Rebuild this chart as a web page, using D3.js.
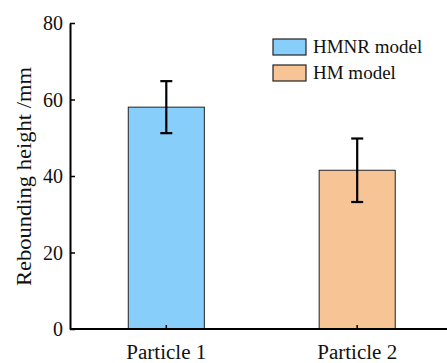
<!DOCTYPE html>
<html>
<head>
<meta charset="utf-8">
<script src="https://cdn.jsdelivr.net/npm/d3@7"></script>
<style>
  body { margin: 0; background: #fff; }
  svg { display: block; }
  text { font-family: "Liberation Serif", "Times New Roman", serif; fill: #111; }
</style>
</head>
<body>
<svg id="chart" width="447" height="363"></svg>
<script>
// Rebounding height per particle, mean with error half-width
const categories = ["Particle 1", "Particle 2"];
const seriesNames = ["HMNR model", "HM model"];
const means = [58, 41.5];
const errors = [6.8, 8.3];
const yTicks = [0, 20, 40, 60, 80];
const colors = ["#87CEFA", "#F7C496"];

const svg = d3.select("#chart");
const x0 = 70, x1 = 447, yTop = 23, yBot = 329;

const y = d3.scaleLinear().domain([0, 80]).range([yBot, yTop]);
const x = d3.scaleBand().domain(categories).range([71, 452.5]).paddingInner(0.6015).paddingOuter(0.3);

// bars
svg.selectAll("rect.bar").data(categories).join("rect")
  .attr("class", "bar")
  .attr("x", d => x(d))
  .attr("y", (d, i) => y(means[i]))
  .attr("width", x.bandwidth())
  .attr("height", (d, i) => y(0) - y(means[i]))
  .attr("fill", (d, i) => colors[i])
  .attr("stroke", "#222")
  .attr("stroke-width", 1);

// error bars
const eb = svg.selectAll("g.err").data(categories).join("g").attr("class", "err")
  .attr("stroke", "#000").attr("stroke-width", 2.2);
eb.append("line")
  .attr("x1", d => x(d) + x.bandwidth() / 2).attr("x2", d => x(d) + x.bandwidth() / 2)
  .attr("y1", (d, i) => y(means[i] + errors[i])).attr("y2", (d, i) => y(means[i] - errors[i]));
[1, -1].forEach(s => {
  eb.append("line")
    .attr("x1", d => x(d) + x.bandwidth() / 2 - 6).attr("x2", d => x(d) + x.bandwidth() / 2 + 6)
    .attr("y1", (d, i) => y(means[i] + s * errors[i])).attr("y2", (d, i) => y(means[i] + s * errors[i]));
});

// y axis (ticks point inward)
const yAxis = svg.append("g").attr("transform", `translate(${x0},0)`)
  .call(d3.axisLeft(y).tickValues(yTicks).tickSize(-5).tickSizeOuter(0).tickPadding(7));
yAxis.select(".domain").attr("stroke", "#000").attr("stroke-width", 2);
yAxis.selectAll(".tick line").attr("stroke", "#000").attr("stroke-width", 1.5);
yAxis.selectAll(".tick text").attr("font-size", 20).attr("font-family", "Liberation Serif").attr("fill", "#111").attr("dy", "0.34em");

// x axis (ticks point inward)
const xAxis = svg.append("g").attr("transform", `translate(0,${yBot})`)
  .call(d3.axisBottom(x).tickSize(-4).tickSizeOuter(0).tickPadding(16));
xAxis.select(".domain").attr("d", `M${x0},0H${x1}`).attr("stroke", "#000").attr("stroke-width", 2);
xAxis.selectAll(".tick line").attr("stroke", "#000").attr("stroke-width", 1.5);
xAxis.selectAll(".tick text").attr("font-size", 20).attr("font-family", "Liberation Serif").attr("fill", "#111")
  .attr("textLength", 80).attr("lengthAdjust", "spacingAndGlyphs");

// y axis title
svg.append("text")
  .attr("transform", "translate(31,176.5) rotate(-90)")
  .attr("text-anchor", "middle")
  .attr("font-size", 20)
  .attr("textLength", 219).attr("lengthAdjust", "spacingAndGlyphs")
  .text("Rebounding height /mm");

// legend
const lg = svg.append("g").attr("transform", "translate(273,39)");
seriesNames.forEach((name, i) => {
  lg.append("rect").attr("x", 0).attr("y", i * 26).attr("width", 33).attr("height", 16)
    .attr("fill", colors[i]).attr("stroke", "#222").attr("stroke-width", 1.2);
  lg.append("text").attr("x", 40).attr("y", i * 26 + 14).attr("font-size", 19).text(name);
});
</script>
</body>
</html>
